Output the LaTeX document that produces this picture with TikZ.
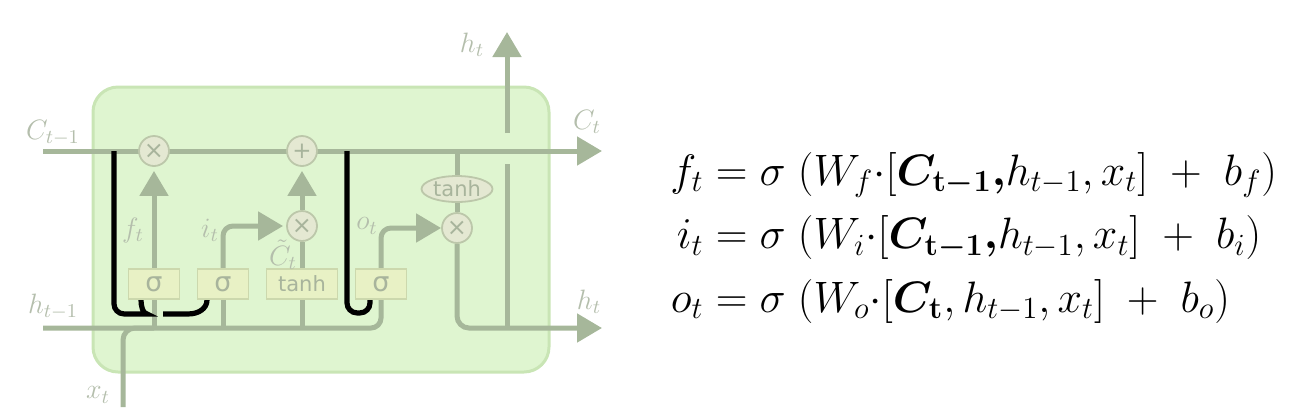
\RequirePackage{fix-cm}
\documentclass[tikz,border=0pt]{standalone}
\usepackage{amsmath}
\usepackage{fontspec}
\newfontfamily\gatefont{DejaVu Sans}
\usetikzlibrary{arrows.meta,calc,positioning,shapes.geometric}
\definecolor{cellfill}{HTML}{DFF5D0}
\definecolor{celledge}{HTML}{C9E5B5}
\definecolor{wire}{HTML}{A6B79A}
\definecolor{gatefill}{HTML}{E8F1C5}
\definecolor{gateedge}{HTML}{CCD8AD}
\definecolor{opfill}{HTML}{E4E8D2}
\definecolor{opedge}{HTML}{BCC7AA}
\definecolor{gatetext}{HTML}{A8B49C}
\definecolor{labeltext}{HTML}{B4BEAC}
\pgfdeclarelayer{panel}
\pgfdeclarelayer{wires}
\pgfsetlayers{panel,wires,main}
\tikzset{
  cell/.style={draw=celledge,fill=cellfill,line width=1.5pt,rectangle,rounded corners=12.5pt,minimum width=228pt,minimum height=142.5pt,inner sep=0pt},
  wire/.style={draw=wire,line width=2.5pt},
  flow/.style={wire,-{Triangle[length=12.5pt,width=14pt]}},
  peep/.style={draw=black,line width=2.6pt},
  gate/.style={draw=gateedge,fill=gatefill,line width=0.9pt,rectangle,minimum width=25.5pt,minimum height=15pt,inner sep=0pt,text=gatetext,font=\gatefont\fontsize{13.5}{14}\selectfont},
  gatewide/.style={gate,minimum width=35.5pt,font=\gatefont\fontsize{10.5}{12}\selectfont},
  op/.style={draw=opedge,fill=opfill,line width=0.9pt,circle,minimum size=15pt,inner sep=0pt,text=gatetext,font=\gatefont\fontsize{12}{14}\selectfont},
  optanh/.style={draw=opedge,fill=opfill,line width=0.9pt,ellipse,minimum width=35.5pt,minimum height=13pt,inner sep=0pt,text=gatetext,font=\gatefont\fontsize{10.5}{12}\selectfont},
  tag/.style={text=labeltext,font=\fontsize{14}{16}\selectfont,inner sep=0pt},
}
\begin{document}
\begin{tikzpicture}[x=0.5pt,y=-0.5pt]
  \useasboundingbox (0,0) rectangle (1305,419);

  % cell body
  \begin{pgfonlayer}{panel}
    \node[cell] (body) at (321,229.5) {};
  \end{pgfonlayer}

  % gates and pointwise ops
  \node[gate]     (sf) at (154,284) {σ};
  \node[gate]     (si) at (223,284) {σ};
  \node[gatewide] (tb) at (302,284) {tanh};
  \node[gate]     (so) at (381,284) {σ};
  \node[op] (fx) at (154,151) {×};
  \node[op,font=\gatefont\fontsize{11.5}{13}\selectfont] (ad) at (302,151) {+};
  \node[op] (ix) at (302,226) {×};
  \node[op] (ox) at (457,228) {×};
  \node[optanh] (ct) at (457,189) {tanh};

  \coordinate (cin)    at (43,151);
  \coordinate (cout)   at (602,151);
  \coordinate (hin)    at (43,328);
  \coordinate (hout)   at (602,328);
  \coordinate (xin)    at (123,407);
  \coordinate (hsplit) at (507,328);
  \coordinate (hunder) at (507,164);
  \coordinate (hover)  at (507,133);
  \coordinate (htop)   at (507,32);
  \coordinate (pf)     at (114,151);
  \coordinate (po)     at (347,151);

  % wires
  \begin{pgfonlayer}{wires}
    \draw[flow] (cin) -- (cout);
    \draw[wire,rounded corners=5pt] (hin) -| (so.south);
    \draw[wire,rounded corners=6pt] (xin) |- (sf.south |- hin);
    \draw[wire] (sf.south) -- (sf.south |- hin);
    \draw[flow,shorten >=2pt] (sf) -- (fx);
    \draw[wire] (si.south) -- (si.south |- hin);
    \draw[flow,rounded corners=5pt,shorten >=1.5pt] (si.north) |- (ix.west);
    \draw[wire] (tb.south) -- (tb.south |- hin);
    \draw[wire] (tb) -- (ix);
    \draw[flow,shorten >=2pt] (ix) -- (ad);
    \draw[flow,rounded corners=5pt] (so.north) |- (ox.west);
    \draw[wire] (ct.north) -- (ct.north |- cin);
    \draw[wire] (ct) -- (ox);
    \draw[flow,rounded corners=6pt] (ox.south) |- (hout);
    \draw[wire] (hsplit) -- (hunder);
    \draw[flow] (hover) -- (htop);
    % peepholes
    \draw[peep,rounded corners=5pt] (pf) |- ($(sf.south)+(-17,14)$) to[out=0,in=-90] ($(sf.south)+(-13,0)$);
    \draw[peep] ($(sf.south)+(9,14)$) -- ($(si.south)+(-34,14)$) to[out=0,in=-90] ($(si.south)+(-16,0)$);
    \draw[peep,rounded corners=5pt] (po) |- ($(so.south)+(-11,13)$) -- ($(so.south)+(-11,0)$);
  \end{pgfonlayer}

  % labels
  \node[tag] at (53,133)  {$C_{t-1}$};
  \node[tag] at (53,307)  {$h_{t-1}$};
  \node[tag] at (98,395)  {$x_t$};
  \node[tag] at (133,230) {$f_t$};
  \node[tag] at (210,230) {$i_t$};
  \node[tag] at (283,255) {$\tilde{C}_t$};
  \node[tag] at (367,226) {$o_t$};
  \node[tag] at (472,45)  {$h_t$};
  \node[tag] at (587,122) {$C_t$};
  \node[tag] at (589,302) {$h_t$};

  % equations
  \node[anchor=west,inner sep=0pt,font=\fontsize{22}{31.75}\selectfont] (eqs) at (670,236) {$\begin{array}{@{}r@{}l@{}}
    f_t &{}= \sigma\;(W_f{\cdot}[\boldsymbol{C_{\mathbf{t-1}},}h_{t-1},x_t]\;+\;b_f)\\
    i_t &{}= \sigma\;(W_i{\cdot}[\boldsymbol{C_{\mathbf{t-1}},}h_{t-1},x_t]\;+\;b_i)\\
    o_t &{}= \sigma\;(W_o{\cdot}[\boldsymbol{C_{\mathbf{t}}},h_{t-1},x_t]\;+\;b_o)
  \end{array}$};
\end{tikzpicture}
\end{document}
